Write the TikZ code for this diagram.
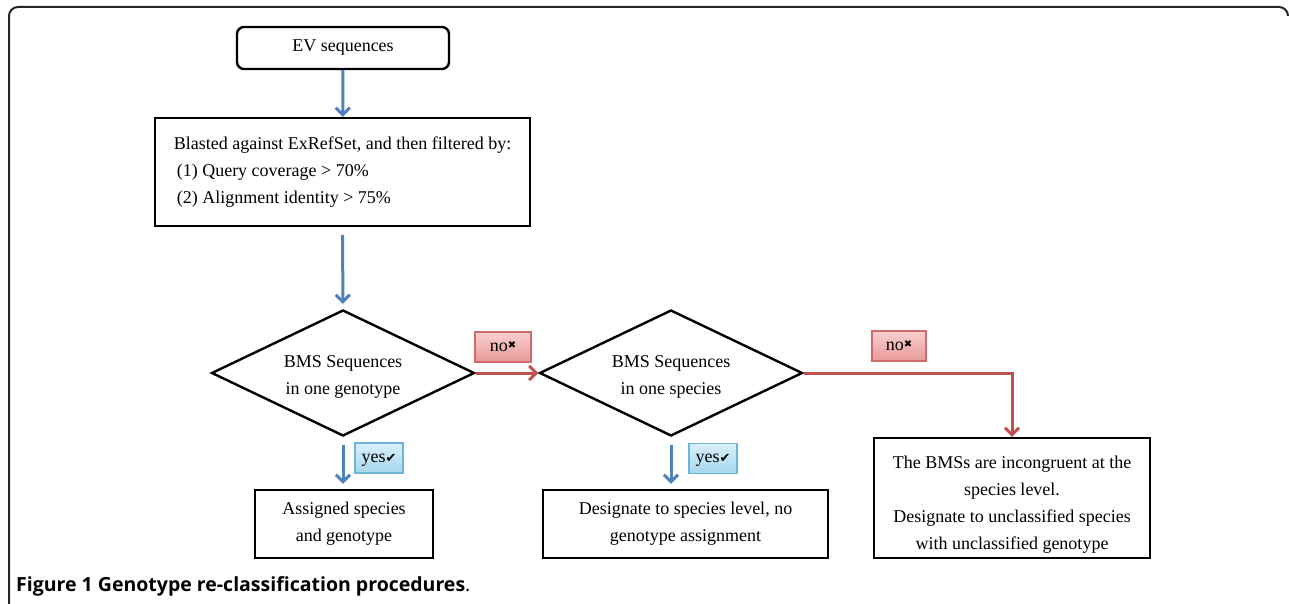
\documentclass[tikz,border=0pt]{standalone}
\usepackage{fontspec}
\setmainfont{Liberation Serif}
\newfontfamily\capfont{Open Sans}
\newfontfamily\symfont{DejaVu Sans}
\usetikzlibrary{shapes.geometric,arrows.meta}
\definecolor{arrblue}{HTML}{4F81BD}
\definecolor{arrred}{HTML}{C0504D}
\definecolor{notop}{HTML}{F9CFCF}
\definecolor{nobot}{HTML}{E89999}
\definecolor{noline}{HTML}{D06B6B}
\definecolor{yestop}{HTML}{D9F0FA}
\definecolor{yesbot}{HTML}{A6D6EE}
\definecolor{yesline}{HTML}{6DB5D6}
\tikzset{
  box/.style={draw=black, line width=2.4pt, inner sep=0pt, align=center,
    font=\fontsize{18}{27}\selectfont},
  decision/.style={diamond, aspect=2.09, draw=black, line width=2.4pt, inner sep=0pt,
    minimum width=263pt, minimum height=126pt, align=center,
    font=\fontsize{18}{27}\selectfont},
  barrow/.style={draw=arrblue, line width=3pt, -{Straight Barb[length=7pt,width=14pt]}},
  rarrow/.style={draw=arrred, line width=3pt, -{Straight Barb[length=7pt,width=14pt]}},
  nolabel/.style={draw=noline, line width=1.2pt, top color=notop, bottom color=nobot,
    inner sep=0pt, minimum height=30pt, text height=12pt, text depth=4pt,
    font=\fontsize{18}{20}\selectfont},
  yeslabel/.style={draw=yesline, line width=1.2pt, top color=yestop, bottom color=yesbot,
    inner sep=0pt, minimum height=30pt, minimum width=48pt, text height=12pt, text depth=4pt,
    font=\fontsize{18}{20}\selectfont},
  frame/.style={draw=black!85, line width=2pt, rounded corners=9pt}
}
\newcommand{\nomark}{\raisebox{3pt}{\symfont\fontsize{10}{10}\selectfont ✖}}
\newcommand{\yesmark}{{\symfont\fontsize{13}{13}\selectfont ✔}}
\begin{document}
\begin{tikzpicture}[x=1pt,y=-1pt]
\useasboundingbox (0,0) rectangle (1290,604);
\draw[frame] (1288,16) -- (1288,7) -- (9,7) -- (9,615);

\node[box, rounded corners=7pt, minimum width=212pt, minimum height=42pt] (ev) at (343,48) {EV sequences};
\node[box, minimum width=375pt, minimum height=108pt, align=left] (blast) at (342.5,172)
  {Blasted against ExRefSet, and then filtered by:\\
   \hspace{3pt}(1) Query coverage > 70\%\\
   \hspace{3pt}(2) Alignment identity > 75\%};
\node[decision] (d1) at (343,373) {\rule{0pt}{20pt}BMS Sequences\\in one genotype};
\node[decision] (d2) at (671,373) {\rule{0pt}{20pt}BMS Sequences\\in one species};
\node[box, minimum width=178pt, minimum height=68pt] (assigned) at (344,524) {Assigned species\\and genotype};
\node[box, minimum width=285pt, minimum height=68pt] (designate) at (685.5,524) {Designate to species level, no\\genotype assignment};
\node[box, minimum width=276pt, minimum height=120pt] (incong) at (1012,498)
  {\rule{0pt}{26pt}The BMSs are incongruent at the\\species level.\\Designate to unclassified species\\with unclassified genotype};

\draw[barrow] (ev) -- (blast);
\draw[barrow, shorten <=8pt, shorten >=5pt] (blast) -- (d1);
\draw[rarrow] (d1.east) -- (d2.west);
\draw[rarrow] (d2.east) -| (incong.north);
\draw[barrow, shorten <=8pt, shorten >=5pt] (d1.south) -- (d1.south |- assigned.north);
\draw[barrow, shorten <=8pt, shorten >=5pt] (d2.south) -- (d2.south |- designate.north);

\node[nolabel, minimum width=56pt] (no1) at (503,347) {no\nomark};
\node[nolabel, minimum width=54pt] (no2) at (899,346) {no\nomark};
\node[yeslabel] (yes1) at (379,458) {yes\yesmark};
\node[yeslabel] (yes2) at (713,458.5) {yes\yesmark};

\node[anchor=base west, inner sep=0pt] (cap) at (16,591)
  {\capfont\fontsize{19.5}{22}\selectfont\bfseries Figure 1\ Genotype re-classification procedures\mdseries.};
\end{tikzpicture}
\end{document}
